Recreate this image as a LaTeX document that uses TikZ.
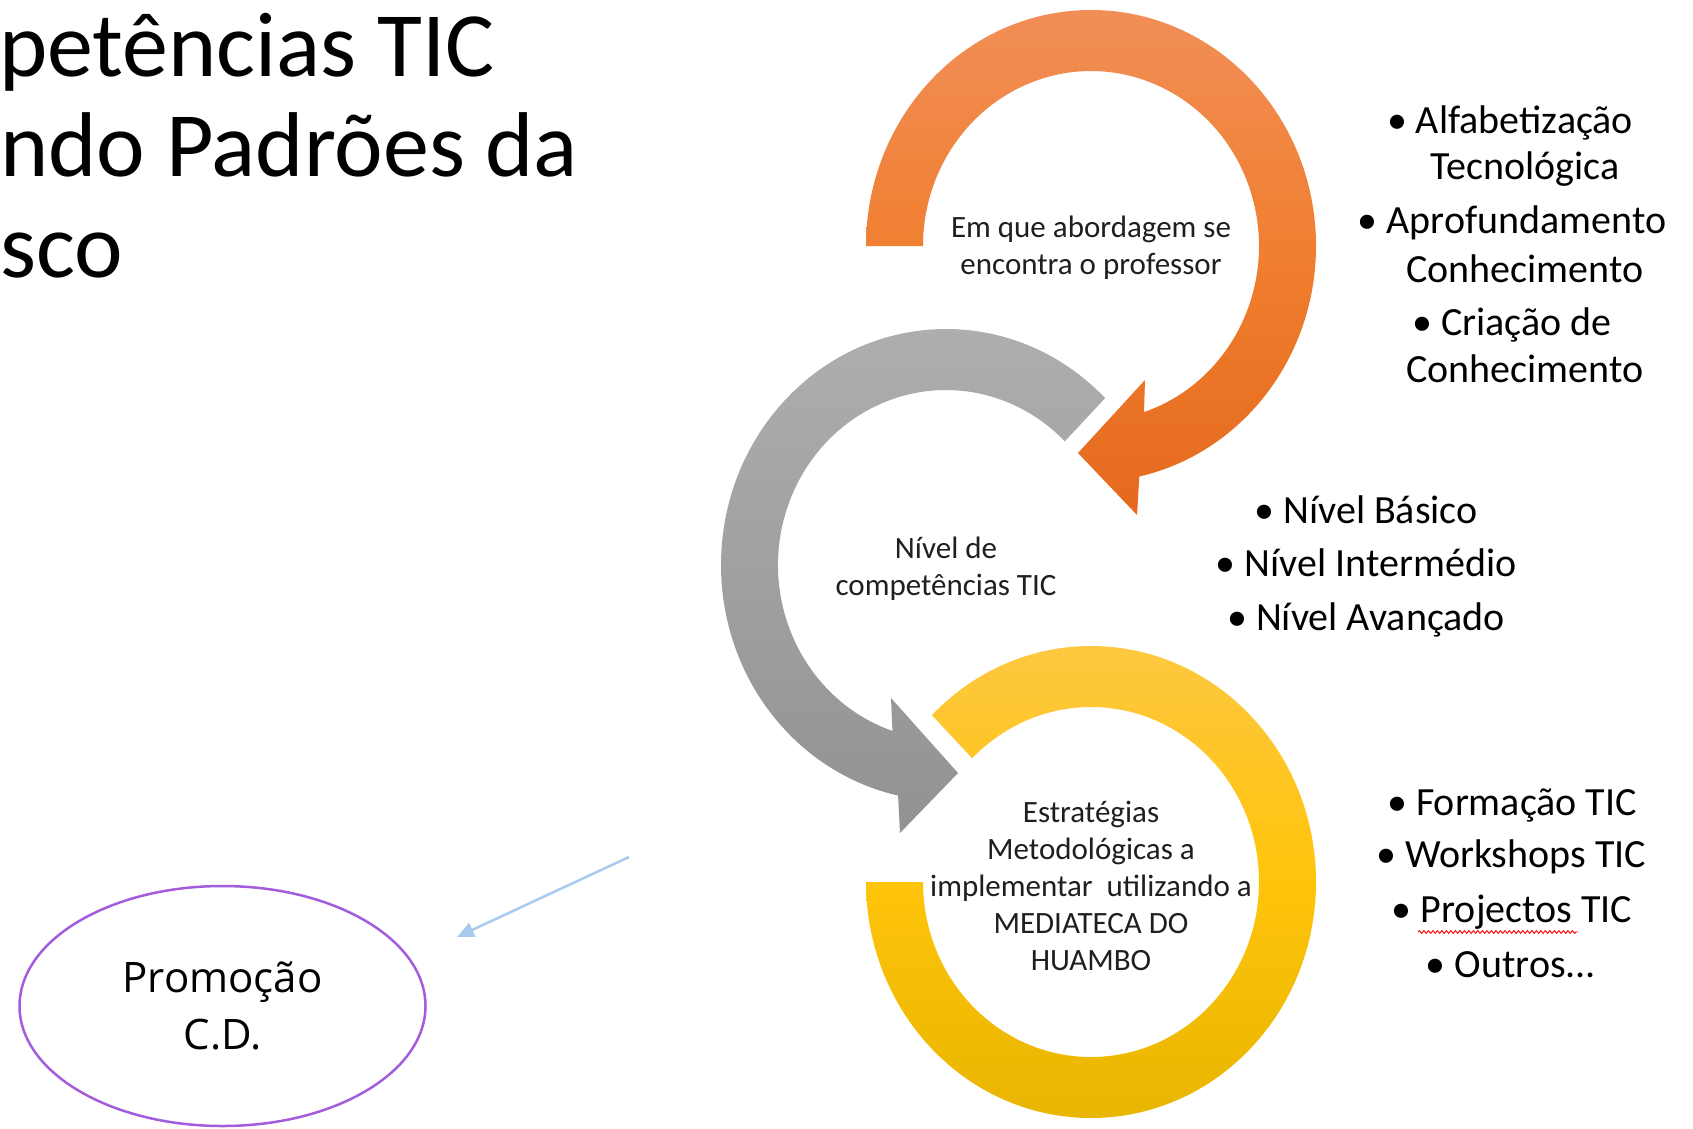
\documentclass[tikz,border=0pt]{standalone}
\usepackage{fontspec}
\setmainfont{Carlito}
\newfontfamily\osans{Open Sans}
\usetikzlibrary{arrows.meta,decorations.pathmorphing,shapes.geometric}
\definecolor{orTop}{HTML}{F18E57}
\definecolor{orMid}{HTML}{F07E2E}
\definecolor{orBot}{HTML}{E5691D}
\definecolor{grTop}{HTML}{AFAFAF}
\definecolor{grBot}{HTML}{929292}
\definecolor{yeTop}{HTML}{FEC846}
\definecolor{yeMid}{HTML}{FFC40A}
\definecolor{yeBot}{HTML}{E6B400}
\definecolor{txt}{HTML}{1F1F1F}
\definecolor{lblue}{HTML}{A6CBEF}
\definecolor{purp}{HTML}{A35DDC}
\begin{document}
\begin{tikzpicture}[x=1pt,y=-1pt,
  circtext/.style={align=center, text=txt, font=\fontsize{31}{37}\selectfont, inner sep=0pt},
  bul/.style={anchor=base, inner sep=0pt, font=\fontsize{40}{48}\selectfont, text=black},
  titletext/.style={anchor=base west, inner sep=0pt, font=\fontsize{92}{100}\selectfont, text=black},
  oval/.style={draw=purp, line width=2.5pt, ellipse, inner sep=0pt, minimum width=406pt, minimum height=240pt, align=center, font=\osans\fontsize{42}{57}\selectfont}
]
\useasboundingbox (0,0) rectangle (1693,1128);
\fill[white] (0,0) rectangle (1693,1128);

% orange circular arrow
\path[top color=orTop, bottom color=orBot, middle color=orMid]
  (1091,246) ++(180:225 and 236)
  arc[start angle=180, end angle=437.6, x radius=225, y radius=236]
  -- (1137,515) -- (1078,453) -- (1145,380) -- (1144,412.1)
  arc[start angle=431.6, end angle=180, x radius=168, y radius=175] -- cycle;

% gray circular arrow
\path[top color=grTop, bottom color=grBot]
  (946,565) ++(-45:225 and 236)
  arc[start angle=-45, end angle=-257.7, x radius=225, y radius=236]
  -- (900,833) -- (958,773) -- (891,698) -- (892.4,730.9)
  arc[start angle=-251.4, end angle=-45, x radius=168, y radius=175] -- cycle;

% yellow ring
\path[top color=yeTop, bottom color=yeBot, middle color=yeMid]
  (1091,882) ++(225:225 and 236)
  arc[start angle=225, end angle=540, x radius=225, y radius=236]
  -- (923,882)
  arc[start angle=540, end angle=225, x radius=168, y radius=175] -- cycle;

% circle texts
\node[circtext] (torange) at (1091,248) {Em que abordagem se\\encontra o professor};
\node[circtext] (tgray) at (946,569) {Nível de\\competências TIC};
\node[circtext] (tyellow) at (1091,886) {Estratégias\\Metodológicas a\\implementar\ \ utilizando a\\MEDIATECA DO\\HUAMBO};

% title (at the left edge)
\node[titletext] (title1) at (-1,76) {petências TIC};
\node[titletext] (title2) at (0,176) {ndo Padrões da};
\node[titletext] (title3) at (0,277) {sco};

% top bullet list
\node[bul] (a1) at (1510,133) {• Alfabetização};
\node[bul] (a2) at (1525,179) {Tecnológica};
\node[bul] (a3) at (1512,233) {• Aprofundamento};
\node[bul] (a4) at (1525,282) {Conhecimento};
\node[bul] (a5) at (1512,335) {• Criação de};
\node[bul] (a6) at (1525,382) {Conhecimento};

% middle bullet list
\node[bul] (n1) at (1366,523) {• Nível Básico};
\node[bul] (n2) at (1366,576) {• Nível Intermédio};
\node[bul] (n3) at (1366,630) {• Nível Avançado};

% bottom bullet list
\node[bul] (f1) at (1512,815) {• Formação TIC};
\node[bul] (f2) at (1511,867) {• Workshops TIC};
\node[bul] (f3) at (1512,922) {• Projectos TIC};
\node[bul] (f4) at (1511,977) {• Outros...};
\draw[red, line width=0.9pt, decorate, decoration={snake, amplitude=1.4pt, segment length=4.5pt}]
  (1418,932) -- (1578,932);

% ellipse
\node[oval] (promo) at (222.5,1006) {Promoção\\C.D.};

% blue arrow
\coordinate (bs) at (629,857);
\coordinate (be) at (457,937);
\draw[lblue, line width=2.5pt, -{Triangle[length=17pt,width=15pt]}] (bs) -- (be);
\end{tikzpicture}
\end{document}
